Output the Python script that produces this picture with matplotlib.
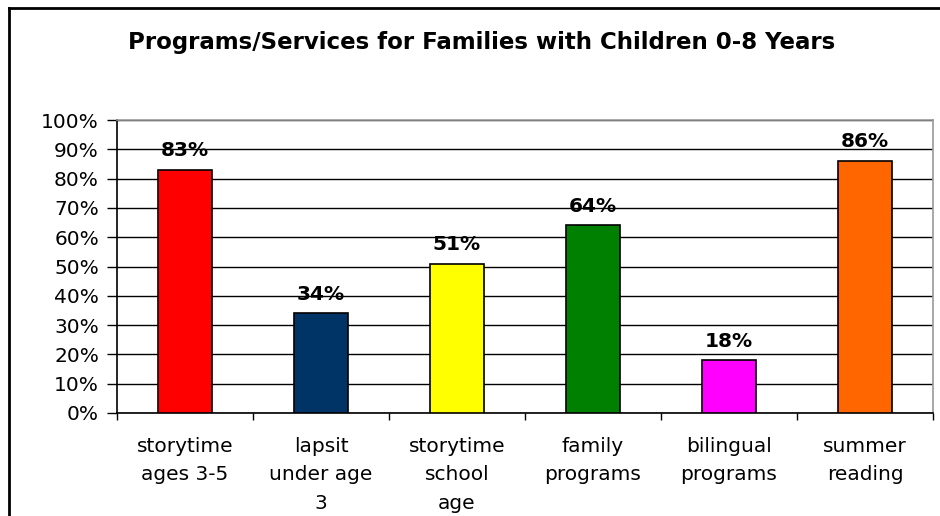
import matplotlib.pyplot as plt
from matplotlib.lines import Line2D
import numpy as np

categories = ["storytime\nages 3-5", "lapsit\nunder age\n3", "storytime\nschool\nage",
              "family\nprograms", "bilingual\nprograms", "summer\nreading"]
values = [83, 34, 51, 64, 18, 86]
colors = ["#FF0000", "#003366", "#FFFF00", "#008000", "#FF00FF", "#FF6600"]
yticks = list(range(0, 101, 10))
title = "Programs/Services for Families with Children 0-8 Years"

plt.rcParams["font.family"] = ["DejaVu Sans"]

fig = plt.figure(figsize=(9.4, 5.16), dpi=100)
ax = fig.add_axes([117 / 940, 1 - 413 / 516, 816 / 940, 293 / 516])

x = np.arange(len(categories))
ax.bar(x, values, width=0.4, color=colors, edgecolor="black", linewidth=1.2, zorder=3)

for xi, v in zip(x, values):
    ax.annotate(f"{v}%", (xi, v), xytext=(0, 7), textcoords="offset points",
                ha="center", va="bottom", fontsize=14.5, fontweight="bold")

ax.set_xlim(-0.5, len(categories) - 0.5)
ax.set_ylim(0, 100)
ax.set_yticks(yticks)
ax.set_yticklabels([f"{t}%" for t in yticks], fontsize=14.5)
ax.tick_params(axis="y", length=7, width=1, pad=6, direction="out")

ax.set_xticks(x)
ax.set_xticklabels(categories, fontsize=14.5, linespacing=1.65)
ax.set_xticks(np.arange(len(categories) + 1) - 0.5, minor=True)
ax.tick_params(axis="x", which="major", length=0, pad=17)
ax.tick_params(axis="x", which="minor", length=5, width=1, direction="out")

ax.yaxis.grid(True, color="black", linewidth=1)
ax.set_axisbelow(True)
for s in ["top", "right"]:
    ax.spines[s].set_color("#999999")
    ax.spines[s].set_linewidth(1.2)
for s in ["left", "bottom"]:
    ax.spines[s].set_color("black")
    ax.spines[s].set_linewidth(1.2)

fig.text(482 / 940, 1 - 42 / 516, title, ha="center", va="center",
         fontsize=16.5, fontweight="bold")

# outer chart frame (top and left edges visible)
fig.add_artist(Line2D([9 / 940, 1], [1 - 8 / 516, 1 - 8 / 516], color="black", linewidth=2))
fig.add_artist(Line2D([9 / 940, 9 / 940], [0, 1 - 8 / 516], color="black", linewidth=2))

fig.savefig("out.png", dpi=100)
